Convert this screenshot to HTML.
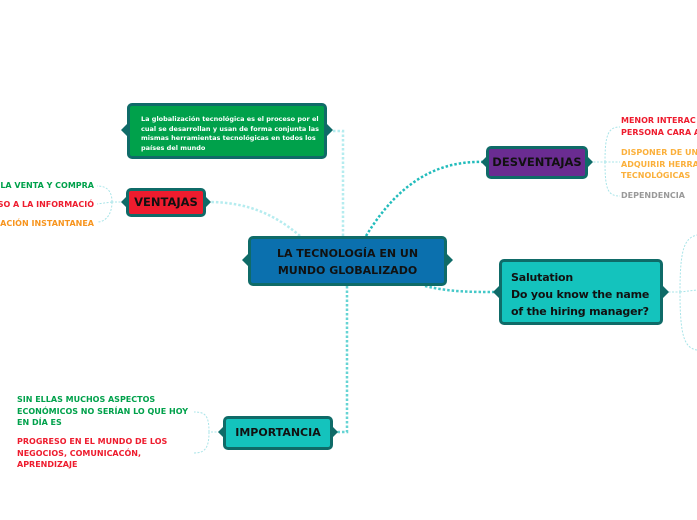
<!DOCTYPE html>
<html><head><meta charset="utf-8"><style>
body{margin:0;width:697px;height:520px;background:#fff;position:relative;overflow:hidden;font-family:"DejaVu Sans","Liberation Sans",sans-serif;}
.n{position:absolute;box-sizing:border-box;border:3px solid #0f6b68;border-radius:5px;font-weight:bold;white-space:nowrap;}
.t{position:absolute;font-weight:bold;font-size:8px;white-space:nowrap;line-height:11.5px;}
svg{position:absolute;left:0;top:0}
</style></head><body>
<svg width="697" height="520">
<g fill="none" stroke-dasharray="2.5 2" stroke-width="2.5">
<path d="M343 236 L343 131 L330 131" stroke="#b5ecef"/>
<path d="M300 236 C270 210 240 202 208 202" stroke="#b5ecef"/>
<path d="M366 236 C400 180 440 160 486 162" stroke="#22bcbc"/>
<path d="M425 286 C450 292 470 292 497 292" stroke="#44c8c8"/>
<path d="M347 286 L347 432 L336 432" stroke="#66d4d4"/>
</g>
<g fill="none" stroke="#a8e4e8" stroke-dasharray="2 1.5" stroke-width="1">
<path d="M124 202 L112 202 M112 202 C112 190 106 186 97 186 M112 202 C112 214 106 222 97 222 M112 202 L97 204"/>
<path d="M590 162 L605 162 M605 162 C605 135 608 127 620 127 M605 162 L620 162 M605 162 C605 190 608 196 620 196"/>
<path d="M665 292 L680 292 M680 292 C680 250 684 238 697 235 M680 292 L697 290 M680 292 C680 335 684 348 697 350"/>
<path d="M220 432 L209 432 M209 432 C209 415 205 412 194 412 M209 432 C209 448 205 453 194 453"/>
</g>
<g fill="#0f6b68">
<path d="M248 260 l-6 0 l6 -6z M248 260 l-6 0 l6 6z"/><path d="M447 260 l6 0 l-6 -6z M447 260 l6 0 l-6 6z"/>
<path d="M127 130 l-6 0 l6 -6z M127 130 l-6 0 l6 6z"/><path d="M327 130 l6 0 l-6 -6z M327 130 l6 0 l-6 6z"/>
<path d="M126 202 l-5 0 l5 -5z M126 202 l-5 0 l5 5z"/><path d="M206 202 l5 0 l-5 -5z M206 202 l5 0 l-5 5z"/>
<path d="M486 162 l-5 0 l5 -5z M486 162 l-5 0 l5 5z"/><path d="M588 162 l5 0 l-5 -5z M588 162 l5 0 l-5 5z"/>
<path d="M499 292 l-6 0 l6 -6z M499 292 l-6 0 l6 6z"/><path d="M663 292 l6 0 l-6 -6z M663 292 l6 0 l-6 6z"/>
<path d="M223 432 l-5 0 l5 -5z M223 432 l-5 0 l5 5z"/><path d="M333 432 l5 0 l-5 -5z M333 432 l5 0 l-5 5z"/>
</g>
</svg>
<div class="n" style="left:248px;top:236px;width:199px;height:50px;background:#0b70ae;font-size:11px;text-align:center;line-height:17px;padding-top:6px;color:#111">LA TECNOLOGÍA EN UN<br>MUNDO GLOBALIZADO</div>
<div class="n" style="left:127px;top:103px;width:200px;height:56px;background:#00a14b;color:#fff;font-size:6.5px;line-height:9.5px;padding:9px 0 0 11px">La globalización tecnológica es el proceso por el<br>cual se desarrollan y usan de forma conjunta las<br>mismas herramientas tecnológicas en todos los<br>países del mundo</div>
<div class="n" style="left:126px;top:188px;width:80px;height:29px;background:#ee1c2e;color:#111;font-size:11.5px;text-align:center;line-height:23px">VENTAJAS</div>
<div class="n" style="left:486px;top:146px;width:102px;height:33px;background:#6a2c91;color:#111;font-size:11.5px;text-align:center;line-height:27px">DESVENTAJAS</div>
<div class="n" style="left:499px;top:259px;width:164px;height:66px;background:#14c3bd;color:#111;font-size:11px;letter-spacing:-0.2px;line-height:17px;padding:7px 0 0 9px">Salutation<br>Do you know the name<br>of the hiring manager?</div>
<div class="n" style="left:223px;top:416px;width:110px;height:34px;background:#14c3bd;color:#111;font-size:11px;text-align:center;line-height:28px">IMPORTANCIA</div>
<div class="t" style="right:603px;top:180px;color:#00a14b">LA VENTA Y COMPRA</div>
<div class="t" style="right:603px;top:199px;color:#ee1c2e">SO A LA INFORMACIÓ</div>
<div class="t" style="right:603px;top:218px;color:#f7941d">ACIÓN INSTANTANEA</div>
<div class="t" style="left:621px;top:115px;color:#ee1c2e">MENOR INTERAC<br>PERSONA CARA A</div>
<div class="t" style="left:621px;top:147px;color:#fbb03b">DISPONER DE UN<br>ADQUIRIR HERRA<br>TECNOLÓGICAS</div>
<div class="t" style="left:621px;top:190px;color:#999">DEPENDENCIA</div>
<div class="t" style="left:17px;top:394px;color:#00a14b">SIN ELLAS MUCHOS ASPECTOS<br>ECONÓMICOS NO SERÍAN LO QUE HOY<br>EN DÍA ES</div>
<div class="t" style="left:17px;top:436px;color:#ee1c2e">PROGRESO EN EL MUNDO DE LOS<br>NEGOCIOS, COMUNICACÓN,<br>APRENDIZAJE</div>
</body></html>
